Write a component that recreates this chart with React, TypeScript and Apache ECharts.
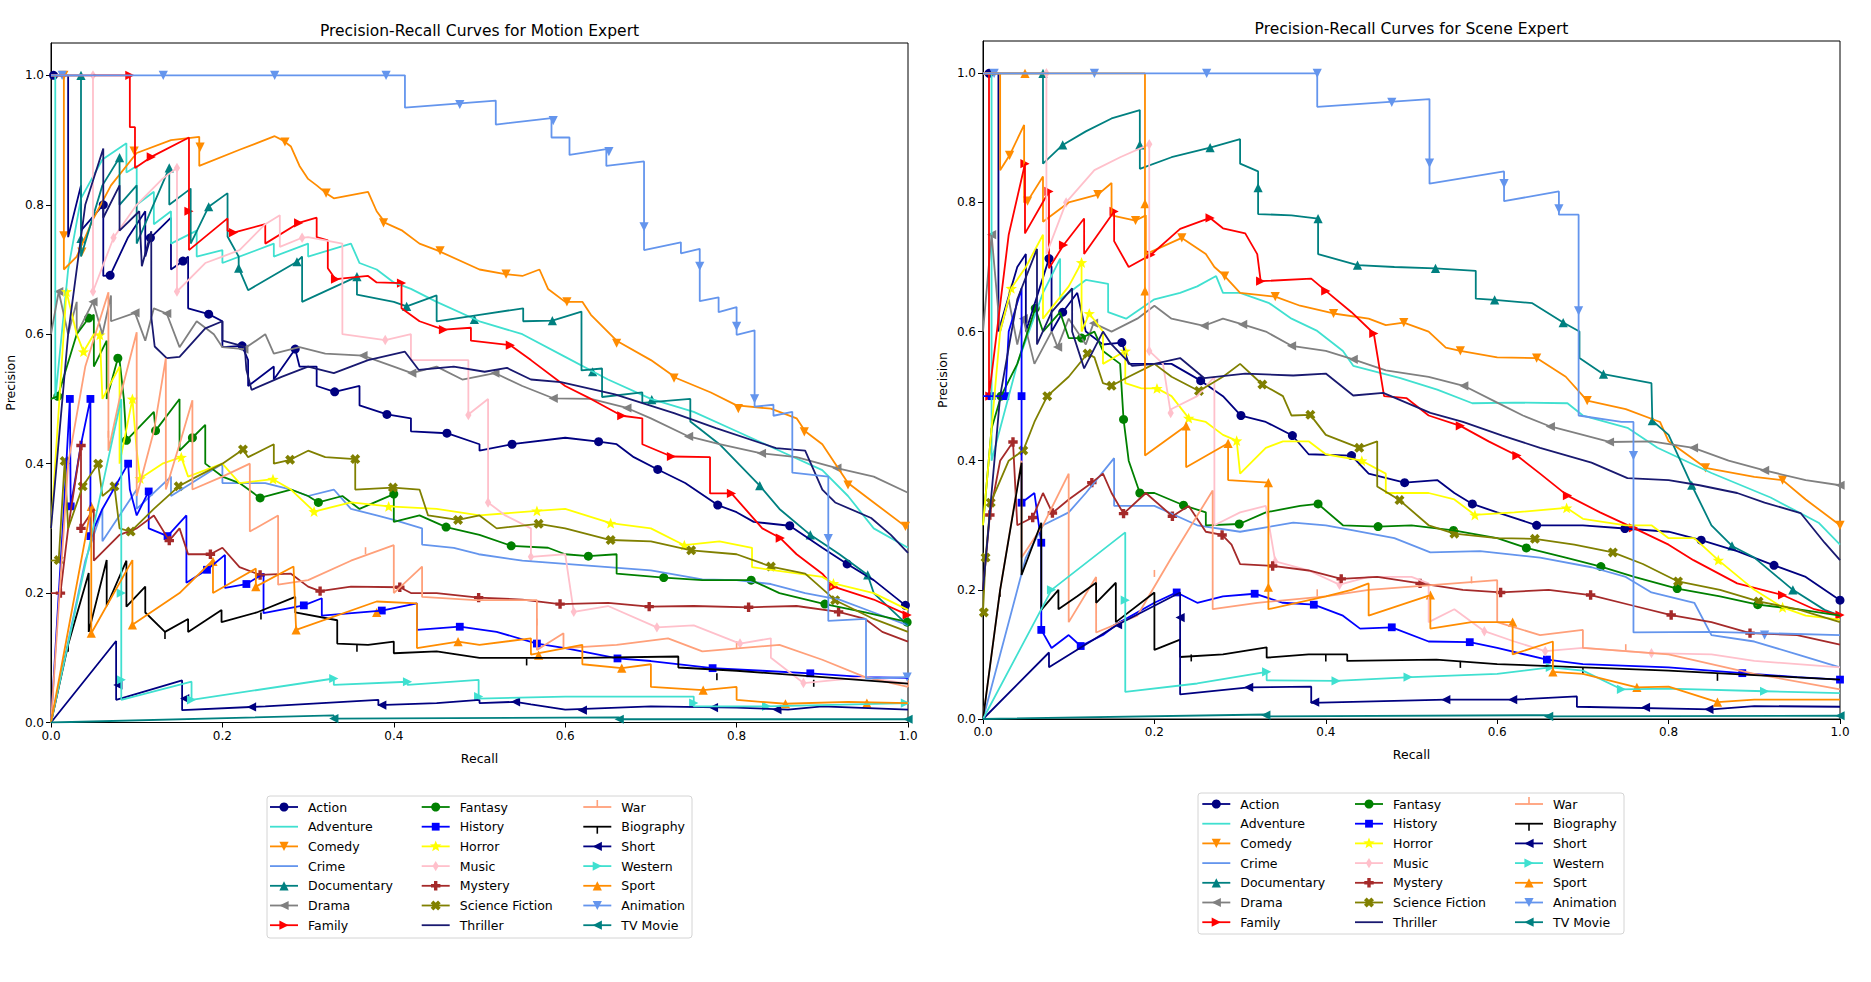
import { useEffect, useRef } from 'react';
import * as echarts from 'echarts';

// ---- genres and their styles (same order as the legend) ----
const GENRES = ['Action', 'Adventure', 'Comedy', 'Crime', 'Documentary', 'Drama', 'Family', 'Fantasy', 'History', 'Horror', 'Music', 'Mystery', 'Science Fiction', 'Thriller', 'War', 'Biography', 'Short', 'Western', 'Sport', 'Animation', 'TV Movie'];
const COLORS = ['#000080', '#40e0d0', '#ff8c00', '#6495ed', '#008080', '#808080', '#ff0000', '#008000', '#0000ff', '#ffff00', '#ffc0cb', '#a52a2a', '#808000', '#191970', '#ffa07a', '#000000', '#000080', '#40e0d0', '#ff8c00', '#6495ed', '#008080'];
const MARKERS = ['o', '', 'v', '', '^', '<', '>', 'o', 's', '*', 'd', 'P', 'X', '', '2', '3', '<', '>', '^', 'v', '<'];

const TITLES = ['Precision-Recall Curves for Motion Expert', 'Precision-Recall Curves for Scene Expert'];
const X_TICKS = [0, 0.2, 0.4, 0.6, 0.8, 1.0];
const Y_TICKS = [0, 0.2, 0.4, 0.6, 0.8, 1.0];

// ---- Motion expert: [recall, precision] ----
const motionAction = [[0, 1], [0.02, 1], [0.02, 0.75], [0.035, 0.83], [0.035, 0.76], [0.061, 0.8], [0.061, 0.69], [0.069, 0.691], [0.09, 0.75], [0.11, 0.79], [0.11, 0.72], [0.116, 0.749], [0.14, 0.78], [0.14, 0.7], [0.154, 0.713], [0.16, 0.72], [0.16, 0.64], [0.184, 0.631], [0.2, 0.62], [0.2, 0.58], [0.223, 0.582], [0.23, 0.56], [0.23, 0.52], [0.26, 0.55], [0.26, 0.53], [0.285, 0.577], [0.29, 0.55], [0.31, 0.55], [0.31, 0.52], [0.331, 0.511], [0.36, 0.52], [0.36, 0.49], [0.392, 0.476], [0.42, 0.47], [0.42, 0.45], [0.462, 0.447], [0.5, 0.43], [0.5, 0.42], [0.538, 0.43], [0.6, 0.44], [0.639, 0.434], [0.66, 0.43], [0.68, 0.41], [0.708, 0.391], [0.74, 0.37], [0.778, 0.336], [0.8, 0.325], [0.82, 0.31], [0.862, 0.304], [0.9, 0.27], [0.929, 0.245], [0.96, 0.22], [0.997, 0.181], [1.0, 0.175]];
const motionActionMarks = [[0.003, 1.0], [0.061, 0.8], [0.069, 0.691], [0.116, 0.749], [0.154, 0.713], [0.184, 0.631], [0.223, 0.582], [0.285, 0.577], [0.331, 0.511], [0.392, 0.476], [0.462, 0.447], [0.538, 0.43], [0.639, 0.434], [0.708, 0.391], [0.778, 0.336], [0.862, 0.304], [0.929, 0.245], [0.997, 0.181]];
const motionAdventure = [[0, 1], [0.005, 1], [0.005, 0.5], [0.02, 0.7], [0.035, 0.81], [0.06, 0.87], [0.088, 0.895], [0.088, 0.85], [0.1, 0.86], [0.1, 0.8], [0.12, 0.82], [0.12, 0.77], [0.14, 0.79], [0.14, 0.74], [0.17, 0.76], [0.17, 0.72], [0.2, 0.73], [0.2, 0.71], [0.26, 0.74], [0.26, 0.72], [0.3, 0.74], [0.3, 0.72], [0.35, 0.74], [0.36, 0.71], [0.38, 0.7], [0.4, 0.68], [0.42, 0.67], [0.45, 0.65], [0.5, 0.62], [0.55, 0.6], [0.6, 0.565], [0.65, 0.53], [0.7, 0.5], [0.75, 0.48], [0.8, 0.45], [0.85, 0.42], [0.9, 0.39], [0.93, 0.35], [0.96, 0.3], [1.0, 0.27]];
const motionAdventureMarks: number[][] = [];
const motionComedy = [[0, 1], [0.015, 1], [0.015, 0.7], [0.03, 0.72], [0.05, 0.78], [0.07, 0.83], [0.1, 0.88], [0.14, 0.9], [0.173, 0.905], [0.173, 0.86], [0.22, 0.885], [0.261, 0.906], [0.27, 0.9], [0.28, 0.89], [0.29, 0.86], [0.3, 0.84], [0.31, 0.83], [0.321, 0.818], [0.33, 0.81], [0.37, 0.82], [0.38, 0.79], [0.39, 0.772], [0.41, 0.76], [0.43, 0.74], [0.45, 0.73], [0.5, 0.7], [0.53, 0.693], [0.55, 0.69], [0.57, 0.7], [0.58, 0.67], [0.6, 0.65], [0.62, 0.65], [0.63, 0.63], [0.66, 0.59], [0.7, 0.56], [0.73, 0.532], [0.77, 0.51], [0.8, 0.49], [0.84, 0.485], [0.87, 0.47], [0.88, 0.45], [0.9, 0.43], [0.93, 0.37], [0.96, 0.34], [1.0, 0.3]];
const motionComedyMarks = [[0.015, 1.0], [0.015, 0.752], [0.036, 0.727], [0.097, 0.883], [0.174, 0.889], [0.273, 0.897], [0.321, 0.818], [0.388, 0.772], [0.454, 0.729], [0.531, 0.693], [0.602, 0.65], [0.66, 0.586], [0.727, 0.532], [0.802, 0.485], [0.879, 0.449], [0.93, 0.367], [0.997, 0.303]];
const motionCrime = [[0, 0], [0.04, 0.25], [0.06, 0.33], [0.06, 0.28], [0.1, 0.36], [0.1, 0.33], [0.14, 0.38], [0.14, 0.35], [0.2, 0.4], [0.2, 0.37], [0.25, 0.37], [0.28, 0.36], [0.3, 0.35], [0.33, 0.36], [0.35, 0.33], [0.38, 0.32], [0.4, 0.313], [0.433, 0.3], [0.433, 0.275], [0.47, 0.27], [0.499, 0.26], [0.55, 0.25], [0.6, 0.245], [0.65, 0.24], [0.7, 0.235], [0.76, 0.221], [0.8, 0.22], [0.84, 0.214], [0.88, 0.2], [0.92, 0.19], [0.96, 0.17], [1.0, 0.15]];
const motionCrimeMarks: number[][] = [];
const motionDocumentary = [[0, 1], [0.035, 1], [0.035, 0.72], [0.06, 0.83], [0.08, 0.873], [0.08, 0.8], [0.1, 0.83], [0.1, 0.74], [0.138, 0.857], [0.138, 0.8], [0.163, 0.825], [0.163, 0.74], [0.184, 0.797], [0.206, 0.818], [0.206, 0.751], [0.219, 0.72], [0.219, 0.702], [0.23, 0.668], [0.287, 0.712], [0.293, 0.72], [0.293, 0.65], [0.357, 0.689], [0.357, 0.661], [0.4, 0.65], [0.415, 0.643], [0.45, 0.66], [0.45, 0.62], [0.5, 0.63], [0.551, 0.64], [0.551, 0.62], [0.585, 0.621], [0.619, 0.635], [0.619, 0.544], [0.643, 0.547], [0.643, 0.503], [0.69, 0.51], [0.69, 0.494], [0.746, 0.5], [0.746, 0.465], [0.78, 0.43], [0.827, 0.366], [0.85, 0.33], [0.886, 0.29], [0.92, 0.26], [0.953, 0.228], [0.96, 0.2], [1.0, 0.15]];
const motionDocumentaryMarks = [[0.035, 1.0], [0.035, 0.748], [0.08, 0.873], [0.138, 0.857], [0.184, 0.797], [0.219, 0.702], [0.287, 0.712], [0.357, 0.689], [0.415, 0.643], [0.494, 0.623], [0.585, 0.621], [0.632, 0.542], [0.701, 0.499], [0.827, 0.366], [0.886, 0.29], [0.953, 0.228]];
const motionDrama = [[0, 0.6], [0.009, 0.666], [0.02, 0.6], [0.03, 0.65], [0.03, 0.6], [0.049, 0.65], [0.06, 0.6], [0.07, 0.66], [0.07, 0.62], [0.098, 0.633], [0.11, 0.59], [0.12, 0.64], [0.135, 0.632], [0.15, 0.58], [0.17, 0.62], [0.19, 0.6], [0.2, 0.58], [0.225, 0.577], [0.25, 0.6], [0.26, 0.57], [0.29, 0.58], [0.32, 0.57], [0.364, 0.567], [0.4, 0.55], [0.421, 0.54], [0.45, 0.55], [0.48, 0.53], [0.518, 0.54], [0.55, 0.52], [0.586, 0.501], [0.63, 0.5], [0.672, 0.486], [0.7, 0.47], [0.744, 0.442], [0.78, 0.43], [0.829, 0.416], [0.87, 0.41], [0.917, 0.393], [0.96, 0.38], [1.0, 0.355]];
const motionDramaMarks = [[0.009, 0.666], [0.049, 0.65], [0.098, 0.633], [0.135, 0.632], [0.225, 0.577], [0.364, 0.567], [0.421, 0.54], [0.518, 0.54], [0.586, 0.501], [0.672, 0.486], [0.744, 0.442], [0.829, 0.416], [0.917, 0.393]];
const motionFamily = [[0, 1], [0.092, 1], [0.092, 0.92], [0.098, 0.92], [0.098, 0.857], [0.117, 0.874], [0.161, 0.904], [0.161, 0.73], [0.206, 0.779], [0.206, 0.76], [0.213, 0.757], [0.25, 0.77], [0.25, 0.74], [0.289, 0.772], [0.31, 0.78], [0.31, 0.75], [0.323, 0.745], [0.323, 0.702], [0.332, 0.685], [0.37, 0.69], [0.38, 0.68], [0.409, 0.679], [0.409, 0.64], [0.43, 0.62], [0.458, 0.607], [0.49, 0.61], [0.49, 0.59], [0.536, 0.583], [0.56, 0.56], [0.6, 0.52], [0.63, 0.5], [0.666, 0.474], [0.69, 0.47], [0.69, 0.43], [0.724, 0.411], [0.769, 0.41], [0.769, 0.354], [0.794, 0.354], [0.81, 0.33], [0.83, 0.3], [0.851, 0.285], [0.87, 0.26], [0.9, 0.23], [0.913, 0.21], [0.96, 0.19], [1.0, 0.166]];
const motionFamilyMarks = [[0.092, 1.0], [0.117, 0.874], [0.161, 0.79], [0.213, 0.757], [0.289, 0.772], [0.332, 0.685], [0.409, 0.679], [0.458, 0.607], [0.536, 0.583], [0.666, 0.474], [0.724, 0.411], [0.794, 0.354], [0.851, 0.285], [0.913, 0.21], [0.999, 0.166]];
const motionFantasy = [[0, 0.5], [0.008, 0.504], [0.03, 0.6], [0.044, 0.625], [0.05, 0.63], [0.05, 0.55], [0.065, 0.59], [0.065, 0.5], [0.078, 0.563], [0.08, 0.56], [0.085, 0.5], [0.088, 0.436], [0.12, 0.48], [0.122, 0.451], [0.15, 0.5], [0.15, 0.42], [0.165, 0.44], [0.18, 0.46], [0.18, 0.4], [0.2, 0.38], [0.22, 0.37], [0.244, 0.347], [0.28, 0.36], [0.3, 0.35], [0.312, 0.34], [0.34, 0.35], [0.36, 0.33], [0.4, 0.353], [0.4, 0.31], [0.43, 0.32], [0.461, 0.302], [0.5, 0.29], [0.537, 0.273], [0.58, 0.27], [0.6, 0.26], [0.627, 0.257], [0.66, 0.26], [0.66, 0.23], [0.715, 0.224], [0.76, 0.22], [0.817, 0.22], [0.85, 0.2], [0.903, 0.183], [0.95, 0.17], [1.0, 0.155]];
const motionFantasyMarks = [[0.008, 0.504], [0.044, 0.625], [0.078, 0.563], [0.088, 0.436], [0.122, 0.451], [0.165, 0.44], [0.244, 0.347], [0.312, 0.34], [0.4, 0.353], [0.461, 0.302], [0.537, 0.273], [0.627, 0.257], [0.715, 0.224], [0.817, 0.22], [0.903, 0.183], [0.999, 0.155]];
const motionHistory = [[0, 0], [0.015, 0.33], [0.022, 0.5], [0.023, 0.334], [0.035, 0.43], [0.046, 0.5], [0.046, 0.288], [0.06, 0.33], [0.09, 0.4], [0.092, 0.36], [0.1, 0.32], [0.114, 0.357], [0.114, 0.3], [0.136, 0.288], [0.158, 0.32], [0.158, 0.216], [0.182, 0.236], [0.203, 0.259], [0.203, 0.208], [0.228, 0.214], [0.248, 0.23], [0.248, 0.169], [0.295, 0.181], [0.316, 0.192], [0.316, 0.165], [0.386, 0.173], [0.427, 0.184], [0.427, 0.143], [0.477, 0.148], [0.52, 0.14], [0.567, 0.122], [0.6, 0.115], [0.661, 0.099], [0.7, 0.095], [0.772, 0.084], [0.83, 0.08], [0.886, 0.076], [0.95, 0.07], [1.0, 0.069]];
const motionHistoryMarks = [[0.022, 0.5], [0.046, 0.5], [0.023, 0.334], [0.046, 0.288], [0.09, 0.4], [0.114, 0.357], [0.136, 0.288], [0.182, 0.236], [0.228, 0.214], [0.295, 0.181], [0.386, 0.173], [0.477, 0.148], [0.567, 0.122], [0.661, 0.099], [0.772, 0.084], [0.886, 0.076]];
const motionHorror = [[0, 0.3], [0.018, 0.666], [0.03, 0.6], [0.038, 0.573], [0.05, 0.6], [0.057, 0.599], [0.06, 0.5], [0.08, 0.55], [0.08, 0.4], [0.095, 0.5], [0.1, 0.42], [0.104, 0.377], [0.13, 0.4], [0.152, 0.41], [0.16, 0.38], [0.2, 0.4], [0.22, 0.37], [0.259, 0.376], [0.28, 0.36], [0.307, 0.326], [0.35, 0.34], [0.394, 0.334], [0.45, 0.33], [0.5, 0.32], [0.567, 0.327], [0.6, 0.33], [0.653, 0.308], [0.7, 0.3], [0.739, 0.274], [0.78, 0.28], [0.818, 0.27], [0.818, 0.24], [0.9, 0.225], [0.913, 0.215], [0.96, 0.2], [1.0, 0.174]];
const motionHorrorMarks = [[0.018, 0.666], [0.038, 0.573], [0.057, 0.599], [0.095, 0.5], [0.104, 0.377], [0.152, 0.41], [0.259, 0.376], [0.307, 0.326], [0.394, 0.334], [0.567, 0.327], [0.653, 0.308], [0.739, 0.274], [0.913, 0.215]];
const motionMusic = [[0, 1], [0.049, 1], [0.049, 0.666], [0.073, 0.749], [0.1, 0.8], [0.13, 0.84], [0.147, 0.857], [0.147, 0.666], [0.18, 0.71], [0.2, 0.72], [0.22, 0.73], [0.25, 0.77], [0.267, 0.784], [0.267, 0.735], [0.293, 0.749], [0.3, 0.75], [0.34, 0.74], [0.34, 0.6], [0.39, 0.591], [0.42, 0.6], [0.42, 0.56], [0.46, 0.56], [0.487, 0.56], [0.487, 0.476], [0.51, 0.5], [0.51, 0.34], [0.53, 0.32], [0.56, 0.3], [0.56, 0.256], [0.6, 0.26], [0.61, 0.171], [0.65, 0.18], [0.707, 0.147], [0.75, 0.15], [0.804, 0.122], [0.84, 0.13], [0.84, 0.1], [0.878, 0.061], [0.95, 0.07], [1.0, 0.06]];
const motionMusicMarks = [[0.049, 1.0], [0.049, 0.666], [0.073, 0.749], [0.147, 0.857], [0.147, 0.666], [0.293, 0.749], [0.39, 0.591], [0.487, 0.475], [0.51, 0.34], [0.56, 0.256], [0.61, 0.171], [0.707, 0.147], [0.804, 0.122], [0.878, 0.061]];
const motionMystery = [[0, 0.2], [0.011, 0.2], [0.02, 0.3], [0.035, 0.43], [0.035, 0.3], [0.05, 0.33], [0.05, 0.25], [0.08, 0.29], [0.1, 0.3], [0.12, 0.32], [0.138, 0.281], [0.15, 0.3], [0.16, 0.26], [0.186, 0.26], [0.2, 0.27], [0.22, 0.24], [0.244, 0.228], [0.28, 0.23], [0.3, 0.21], [0.314, 0.203], [0.35, 0.21], [0.407, 0.209], [0.42, 0.2], [0.45, 0.2], [0.499, 0.193], [0.55, 0.19], [0.594, 0.183], [0.65, 0.185], [0.698, 0.179], [0.75, 0.18], [0.814, 0.178], [0.87, 0.18], [0.919, 0.171], [0.95, 0.16], [0.97, 0.14], [1.0, 0.125]];
const motionMysteryMarks = [[0.011, 0.2], [0.035, 0.3], [0.035, 0.428], [0.138, 0.281], [0.186, 0.26], [0.244, 0.228], [0.314, 0.203], [0.407, 0.209], [0.499, 0.193], [0.594, 0.183], [0.698, 0.179], [0.814, 0.178], [0.919, 0.171]];
const motionSciFi = [[0, 0.25], [0.009, 0.251], [0.016, 0.404], [0.02, 0.3], [0.037, 0.365], [0.055, 0.4], [0.06, 0.35], [0.074, 0.365], [0.08, 0.3], [0.093, 0.295], [0.12, 0.33], [0.149, 0.365], [0.17, 0.38], [0.2, 0.4], [0.224, 0.422], [0.23, 0.41], [0.26, 0.43], [0.26, 0.4], [0.279, 0.406], [0.3, 0.42], [0.32, 0.41], [0.355, 0.407], [0.355, 0.36], [0.399, 0.363], [0.43, 0.36], [0.44, 0.32], [0.475, 0.313], [0.5, 0.32], [0.52, 0.3], [0.569, 0.307], [0.6, 0.3], [0.653, 0.282], [0.7, 0.28], [0.747, 0.266], [0.8, 0.26], [0.84, 0.241], [0.88, 0.23], [0.915, 0.189], [0.96, 0.16], [1.0, 0.14]];
const motionSciFiMarks = [[0.009, 0.251], [0.016, 0.404], [0.037, 0.365], [0.055, 0.4], [0.074, 0.365], [0.093, 0.295], [0.149, 0.365], [0.224, 0.422], [0.279, 0.406], [0.355, 0.407], [0.399, 0.363], [0.475, 0.313], [0.569, 0.307], [0.653, 0.282], [0.747, 0.266], [0.84, 0.241], [0.915, 0.189]];
const motionThriller = [[0, 0.3], [0.02, 0.6], [0.04, 0.8], [0.061, 0.887], [0.061, 0.78], [0.08, 0.83], [0.08, 0.76], [0.103, 0.79], [0.106, 0.705], [0.117, 0.759], [0.117, 0.627], [0.121, 0.581], [0.135, 0.563], [0.15, 0.565], [0.18, 0.609], [0.2, 0.62], [0.2, 0.59], [0.226, 0.581], [0.228, 0.545], [0.234, 0.514], [0.269, 0.534], [0.3, 0.55], [0.33, 0.54], [0.37, 0.56], [0.413, 0.573], [0.429, 0.545], [0.47, 0.55], [0.506, 0.542], [0.532, 0.548], [0.56, 0.53], [0.595, 0.526], [0.658, 0.507], [0.727, 0.478], [0.776, 0.455], [0.846, 0.424], [0.88, 0.42], [0.9, 0.36], [0.915, 0.34], [0.957, 0.316], [0.98, 0.29], [1.0, 0.262]];
const motionThrillerMarks: number[][] = [];
const motionWar = [[0, 0], [0.02, 0.4], [0.04, 0.55], [0.067, 0.665], [0.067, 0.42], [0.08, 0.5], [0.1, 0.603], [0.1, 0.35], [0.12, 0.45], [0.134, 0.563], [0.134, 0.36], [0.15, 0.43], [0.165, 0.498], [0.165, 0.36], [0.2, 0.38], [0.232, 0.4], [0.232, 0.295], [0.265, 0.32], [0.265, 0.213], [0.3, 0.22], [0.35, 0.25], [0.4, 0.274], [0.4, 0.2], [0.433, 0.241], [0.433, 0.194], [0.495, 0.189], [0.567, 0.189], [0.567, 0.112], [0.598, 0.138], [0.598, 0.115], [0.66, 0.12], [0.72, 0.13], [0.76, 0.11], [0.85, 0.12], [0.9, 0.097], [0.95, 0.07], [1.0, 0.055]];
const motionWarMarks = [[0.067, 0.44], [0.367, 0.26], [0.567, 0.15], [0.8, 0.115], [1.0, 0.055]];
const motionBiography = [[0, 0], [0.02, 0.12], [0.044, 0.231], [0.044, 0.14], [0.065, 0.251], [0.065, 0.18], [0.088, 0.25], [0.088, 0.179], [0.11, 0.21], [0.11, 0.17], [0.133, 0.14], [0.16, 0.16], [0.16, 0.14], [0.199, 0.174], [0.199, 0.155], [0.24, 0.17], [0.285, 0.194], [0.285, 0.17], [0.334, 0.158], [0.334, 0.122], [0.37, 0.12], [0.4, 0.125], [0.4, 0.107], [0.45, 0.11], [0.5, 0.1], [0.55, 0.1], [0.62, 0.1], [0.732, 0.102], [0.732, 0.085], [0.8, 0.08], [0.9, 0.07], [1.0, 0.06]];
const motionBiographyMarks = [[0.02, 0.12], [0.133, 0.14], [0.245, 0.17], [0.357, 0.12], [0.555, 0.099], [0.777, 0.076], [0.89, 0.066]];
const motionShort = [[0, 0], [0.076, 0.126], [0.076, 0.035], [0.153, 0.065], [0.153, 0.019], [0.25, 0.025], [0.382, 0.035], [0.382, 0.027], [0.45, 0.03], [0.5, 0.035], [0.5, 0.03], [0.542, 0.032], [0.56, 0.028], [0.6, 0.02], [0.7, 0.025], [0.8, 0.023], [0.86, 0.02], [0.9, 0.025], [1.0, 0.02]];
const motionShortMarks = [[0.078, 0.058], [0.156, 0.037], [0.234, 0.024], [0.386, 0.027], [0.542, 0.032], [0.62, 0.019], [0.773, 0.023], [0.847, 0.02]];
const motionWestern = [[0, 0], [0.082, 0.5], [0.082, 0.035], [0.164, 0.063], [0.164, 0.035], [0.33, 0.068], [0.33, 0.058], [0.416, 0.063], [0.416, 0.058], [0.499, 0.066], [0.499, 0.037], [0.6, 0.04], [0.75, 0.04], [0.75, 0.025], [0.835, 0.025], [1.0, 0.03]];
const motionWesternMarks = [[0.082, 0.2], [0.082, 0.066], [0.164, 0.035], [0.33, 0.068], [0.416, 0.063], [0.499, 0.04], [0.75, 0.03], [0.835, 0.025], [0.997, 0.03]];
const motionSport = [[0, 0], [0.047, 0.334], [0.047, 0.138], [0.095, 0.251], [0.095, 0.151], [0.15, 0.2], [0.189, 0.251], [0.189, 0.2], [0.239, 0.238], [0.239, 0.21], [0.283, 0.241], [0.286, 0.143], [0.38, 0.187], [0.427, 0.184], [0.427, 0.115], [0.475, 0.125], [0.5, 0.12], [0.56, 0.13], [0.56, 0.105], [0.62, 0.12], [0.62, 0.09], [0.666, 0.084], [0.7, 0.09], [0.7, 0.055], [0.761, 0.05], [0.8, 0.055], [0.8, 0.035], [0.857, 0.029], [0.93, 0.032], [1.0, 0.03]];
const motionSportMarks = [[0.047, 0.334], [0.047, 0.138], [0.095, 0.151], [0.189, 0.249], [0.239, 0.21], [0.286, 0.143], [0.38, 0.17], [0.475, 0.125], [0.569, 0.104], [0.666, 0.084], [0.761, 0.05], [0.857, 0.029], [0.952, 0.03]];
const motionAnimation = [[0, 1], [0.413, 1], [0.413, 0.95], [0.519, 0.961], [0.519, 0.924], [0.584, 0.934], [0.584, 0.904], [0.605, 0.904], [0.605, 0.877], [0.648, 0.886], [0.648, 0.86], [0.692, 0.867], [0.692, 0.73], [0.735, 0.742], [0.735, 0.725], [0.757, 0.732], [0.757, 0.651], [0.779, 0.657], [0.779, 0.634], [0.8, 0.642], [0.8, 0.599], [0.821, 0.606], [0.821, 0.488], [0.843, 0.491], [0.843, 0.474], [0.865, 0.48], [0.865, 0.386], [0.907, 0.38], [0.907, 0.157], [0.951, 0.16], [0.951, 0.068], [1.0, 0.07]];
const motionAnimationMarks = [[0.013, 1], [0.131, 1], [0.261, 1], [0.391, 1], [0.477, 0.955], [0.586, 0.93], [0.651, 0.882], [0.692, 0.766], [0.757, 0.705], [0.8, 0.612], [0.821, 0.5], [0.907, 0.284], [0.999, 0.07]];
const motionTvMovie = [[0, 0], [0.33, 0.011], [0.33, 0.006], [0.663, 0.008], [0.663, 0.005], [1.0, 0.005]];
const motionTvMovieMarks = [[0.33, 0.006], [0.663, 0.005], [1.0, 0.005]];

// ---- Scene expert: [recall, precision] ----
const sceneAction = [[0, 1], [0.018, 1], [0.018, 0.6], [0.04, 0.7], [0.05, 0.72], [0.05, 0.6], [0.077, 0.713], [0.08, 0.7], [0.08, 0.6], [0.093, 0.63], [0.11, 0.66], [0.12, 0.6], [0.14, 0.58], [0.162, 0.583], [0.17, 0.55], [0.2, 0.55], [0.22, 0.55], [0.254, 0.524], [0.28, 0.5], [0.301, 0.47], [0.33, 0.46], [0.361, 0.439], [0.38, 0.41], [0.43, 0.408], [0.45, 0.38], [0.492, 0.366], [0.53, 0.37], [0.55, 0.35], [0.571, 0.333], [0.6, 0.32], [0.646, 0.3], [0.7, 0.3], [0.749, 0.295], [0.8, 0.29], [0.838, 0.277], [0.88, 0.26], [0.923, 0.238], [0.96, 0.22], [1.0, 0.184]];
const sceneActionMarks = [[0.007, 1], [0.077, 0.713], [0.093, 0.63], [0.162, 0.583], [0.254, 0.524], [0.301, 0.47], [0.361, 0.439], [0.43, 0.408], [0.492, 0.366], [0.571, 0.333], [0.646, 0.3], [0.749, 0.295], [0.838, 0.277], [0.923, 0.238], [1.0, 0.184]];
const sceneAdventure = [[0, 1], [0.01, 1], [0.01, 0.4], [0.04, 0.55], [0.07, 0.66], [0.09, 0.713], [0.09, 0.65], [0.12, 0.68], [0.146, 0.674], [0.146, 0.63], [0.167, 0.62], [0.2, 0.65], [0.23, 0.66], [0.25, 0.67], [0.272, 0.686], [0.28, 0.66], [0.3, 0.66], [0.334, 0.644], [0.36, 0.62], [0.39, 0.601], [0.42, 0.57], [0.432, 0.547], [0.487, 0.528], [0.53, 0.51], [0.571, 0.489], [0.62, 0.49], [0.682, 0.489], [0.7, 0.47], [0.752, 0.451], [0.787, 0.42], [0.85, 0.381], [0.919, 0.343], [0.975, 0.304], [1.0, 0.27]];
const sceneAdventureMarks: number[][] = [];
const sceneComedy = [[0, 1], [0.02, 1], [0.02, 0.85], [0.031, 0.873], [0.048, 0.92], [0.048, 0.8], [0.052, 0.802], [0.07, 0.84], [0.07, 0.77], [0.1, 0.8], [0.134, 0.812], [0.15, 0.83], [0.15, 0.78], [0.178, 0.772], [0.19, 0.78], [0.19, 0.72], [0.232, 0.745], [0.26, 0.72], [0.27, 0.7], [0.282, 0.686], [0.3, 0.66], [0.341, 0.654], [0.37, 0.64], [0.409, 0.628], [0.45, 0.62], [0.47, 0.61], [0.491, 0.614], [0.52, 0.6], [0.54, 0.575], [0.557, 0.57], [0.6, 0.56], [0.646, 0.559], [0.68, 0.53], [0.705, 0.493], [0.75, 0.48], [0.79, 0.46], [0.8, 0.43], [0.843, 0.389], [0.9, 0.375], [0.933, 0.37], [0.96, 0.34], [1.0, 0.3]];
const sceneComedyMarks = [[0.031, 0.873], [0.052, 0.802], [0.134, 0.812], [0.178, 0.772], [0.232, 0.745], [0.282, 0.686], [0.341, 0.654], [0.409, 0.628], [0.491, 0.614], [0.557, 0.57], [0.646, 0.559], [0.705, 0.493], [0.843, 0.389], [0.933, 0.37], [1.0, 0.3]];
const sceneCrime = [[0, 0], [0.05, 0.25], [0.07, 0.3], [0.1, 0.32], [0.12, 0.35], [0.153, 0.404], [0.153, 0.33], [0.2, 0.33], [0.25, 0.3], [0.3, 0.29], [0.362, 0.304], [0.4, 0.3], [0.432, 0.292], [0.48, 0.28], [0.522, 0.258], [0.58, 0.26], [0.65, 0.25], [0.71, 0.235], [0.75, 0.22], [0.78, 0.196], [0.83, 0.18], [0.85, 0.13], [0.9, 0.12], [0.95, 0.1], [1.0, 0.08]];
const sceneCrimeMarks: number[][] = [];
const sceneDocumentary = [[0, 1], [0.07, 1], [0.07, 0.86], [0.093, 0.889], [0.12, 0.91], [0.15, 0.93], [0.183, 0.943], [0.183, 0.852], [0.22, 0.87], [0.265, 0.885], [0.3, 0.898], [0.3, 0.86], [0.321, 0.848], [0.321, 0.782], [0.36, 0.78], [0.391, 0.775], [0.391, 0.72], [0.437, 0.703], [0.48, 0.7], [0.528, 0.698], [0.575, 0.694], [0.575, 0.651], [0.597, 0.649], [0.641, 0.644], [0.677, 0.614], [0.696, 0.6], [0.696, 0.559], [0.724, 0.534], [0.78, 0.52], [0.781, 0.462], [0.8, 0.44], [0.827, 0.362], [0.85, 0.3], [0.874, 0.268], [0.9, 0.25], [0.945, 0.2], [0.982, 0.169], [1.0, 0.16]];
const sceneDocumentaryMarks = [[0.07, 1], [0.093, 0.889], [0.183, 0.889], [0.265, 0.885], [0.321, 0.823], [0.391, 0.775], [0.437, 0.703], [0.528, 0.698], [0.597, 0.649], [0.677, 0.614], [0.724, 0.534], [0.781, 0.462], [0.827, 0.362], [0.874, 0.268], [0.945, 0.2]];
const sceneDrama = [[0, 0.6], [0.01, 0.75], [0.02, 0.6], [0.03, 0.65], [0.04, 0.58], [0.047, 0.62], [0.06, 0.55], [0.08, 0.6], [0.087, 0.576], [0.1, 0.62], [0.12, 0.58], [0.129, 0.613], [0.15, 0.6], [0.18, 0.62], [0.2, 0.64], [0.22, 0.62], [0.258, 0.609], [0.28, 0.62], [0.303, 0.611], [0.33, 0.6], [0.36, 0.578], [0.4, 0.57], [0.432, 0.557], [0.47, 0.54], [0.52, 0.53], [0.561, 0.516], [0.6, 0.49], [0.63, 0.47], [0.662, 0.453], [0.7, 0.44], [0.731, 0.429], [0.78, 0.43], [0.829, 0.42], [0.87, 0.4], [0.912, 0.385], [0.96, 0.37], [1.0, 0.362]];
const sceneDramaMarks = [[0.01, 0.75], [0.047, 0.62], [0.087, 0.576], [0.129, 0.613], [0.258, 0.609], [0.303, 0.611], [0.36, 0.578], [0.432, 0.557], [0.561, 0.516], [0.662, 0.453], [0.731, 0.429], [0.829, 0.42], [0.912, 0.385], [1.0, 0.362]];
const sceneFamily = [[0, 1], [0.007, 1], [0.007, 0.5], [0.03, 0.75], [0.049, 0.86], [0.049, 0.752], [0.077, 0.817], [0.077, 0.698], [0.094, 0.734], [0.118, 0.775], [0.118, 0.72], [0.153, 0.786], [0.153, 0.74], [0.17, 0.7], [0.196, 0.719], [0.23, 0.759], [0.265, 0.776], [0.28, 0.76], [0.306, 0.752], [0.32, 0.72], [0.324, 0.678], [0.383, 0.682], [0.4, 0.663], [0.43, 0.63], [0.456, 0.597], [0.468, 0.5], [0.494, 0.497], [0.52, 0.47], [0.557, 0.454], [0.59, 0.43], [0.623, 0.408], [0.65, 0.38], [0.682, 0.346], [0.72, 0.32], [0.759, 0.296], [0.8, 0.27], [0.829, 0.246], [0.88, 0.21], [0.933, 0.192], [0.97, 0.17], [1.0, 0.161]];
const sceneFamilyMarks = [[0.008, 0.5], [0.049, 0.86], [0.077, 0.817], [0.094, 0.734], [0.153, 0.786], [0.196, 0.719], [0.265, 0.776], [0.324, 0.678], [0.4, 0.663], [0.456, 0.597], [0.557, 0.454], [0.623, 0.408], [0.682, 0.346], [0.759, 0.296], [0.933, 0.192], [1.0, 0.161]];
const sceneFantasy = [[0, 0.3], [0.01, 0.45], [0.021, 0.5], [0.04, 0.55], [0.061, 0.636], [0.07, 0.6], [0.09, 0.63], [0.1, 0.59], [0.115, 0.59], [0.13, 0.6], [0.14, 0.57], [0.16, 0.55], [0.164, 0.464], [0.17, 0.4], [0.183, 0.35], [0.2, 0.35], [0.234, 0.331], [0.26, 0.32], [0.26, 0.3], [0.299, 0.302], [0.33, 0.32], [0.37, 0.33], [0.391, 0.333], [0.42, 0.3], [0.461, 0.298], [0.5, 0.3], [0.549, 0.292], [0.6, 0.28], [0.634, 0.265], [0.68, 0.25], [0.721, 0.236], [0.76, 0.22], [0.81, 0.202], [0.86, 0.19], [0.904, 0.177], [0.95, 0.17], [1.0, 0.16]];
const sceneFantasyMarks = [[0.021, 0.5], [0.061, 0.636], [0.115, 0.59], [0.164, 0.464], [0.183, 0.35], [0.234, 0.331], [0.299, 0.302], [0.391, 0.333], [0.461, 0.298], [0.549, 0.292], [0.634, 0.265], [0.721, 0.236], [0.81, 0.202], [0.904, 0.177]];
const sceneHistory = [[0, 0.5], [0.026, 0.5], [0.03, 0.6], [0.045, 0.667], [0.045, 0.335], [0.06, 0.35], [0.068, 0.273], [0.068, 0.138], [0.08, 0.11], [0.1, 0.13], [0.114, 0.113], [0.14, 0.13], [0.16, 0.15], [0.2, 0.18], [0.226, 0.196], [0.25, 0.18], [0.28, 0.19], [0.317, 0.194], [0.35, 0.18], [0.386, 0.177], [0.42, 0.16], [0.44, 0.14], [0.477, 0.142], [0.52, 0.12], [0.568, 0.119], [0.6, 0.11], [0.658, 0.092], [0.7, 0.085], [0.8, 0.08], [0.886, 0.071], [0.95, 0.065], [1.0, 0.061]];
const sceneHistoryMarks = [[0.01, 0.5], [0.026, 0.5], [0.045, 0.5], [0.045, 0.335], [0.068, 0.273], [0.068, 0.138], [0.114, 0.113], [0.226, 0.196], [0.317, 0.194], [0.386, 0.177], [0.477, 0.142], [0.568, 0.119], [0.658, 0.092], [0.886, 0.071], [1.0, 0.061]];
const sceneHorror = [[0, 0.3], [0.02, 0.6], [0.033, 0.667], [0.05, 0.7], [0.07, 0.75], [0.07, 0.62], [0.1, 0.67], [0.115, 0.707], [0.115, 0.6], [0.124, 0.628], [0.14, 0.6], [0.14, 0.55], [0.166, 0.57], [0.166, 0.52], [0.185, 0.512], [0.203, 0.512], [0.22, 0.5], [0.24, 0.466], [0.26, 0.46], [0.28, 0.44], [0.296, 0.431], [0.3, 0.38], [0.33, 0.42], [0.35, 0.43], [0.38, 0.43], [0.4, 0.41], [0.442, 0.4], [0.47, 0.38], [0.47, 0.35], [0.52, 0.35], [0.55, 0.34], [0.574, 0.316], [0.62, 0.32], [0.681, 0.327], [0.7, 0.31], [0.75, 0.3], [0.78, 0.3], [0.8, 0.28], [0.83, 0.28], [0.858, 0.246], [0.9, 0.2], [0.933, 0.173], [0.96, 0.16], [1.0, 0.154]];
const sceneHorrorMarks = [[0.033, 0.667], [0.115, 0.707], [0.124, 0.628], [0.166, 0.57], [0.203, 0.512], [0.24, 0.466], [0.296, 0.431], [0.442, 0.4], [0.574, 0.316], [0.681, 0.327], [0.858, 0.246], [0.933, 0.173]];
const sceneMusic = [[0, 1], [0.074, 1], [0.074, 0.72], [0.097, 0.8], [0.13, 0.85], [0.16, 0.87], [0.194, 0.89], [0.194, 0.57], [0.21, 0.55], [0.219, 0.474], [0.22, 0.48], [0.25, 0.5], [0.27, 0.53], [0.27, 0.3], [0.3, 0.32], [0.33, 0.33], [0.341, 0.244], [0.38, 0.23], [0.416, 0.208], [0.45, 0.22], [0.5, 0.22], [0.52, 0.21], [0.52, 0.15], [0.55, 0.17], [0.585, 0.136], [0.62, 0.12], [0.656, 0.105], [0.7, 0.11], [0.78, 0.102], [0.85, 0.1], [0.9, 0.09], [1.0, 0.08]];
const sceneMusicMarks = [[0.074, 1], [0.097, 0.8], [0.194, 0.89], [0.194, 0.57], [0.219, 0.474], [0.341, 0.244], [0.416, 0.208], [0.585, 0.136], [0.656, 0.105], [0.78, 0.102]];
const sceneMystery = [[0, 0.2], [0.008, 0.316], [0.02, 0.4], [0.035, 0.429], [0.04, 0.3], [0.058, 0.312], [0.07, 0.35], [0.081, 0.319], [0.1, 0.34], [0.127, 0.366], [0.14, 0.38], [0.15, 0.35], [0.164, 0.318], [0.19, 0.35], [0.221, 0.314], [0.24, 0.33], [0.26, 0.29], [0.279, 0.285], [0.29, 0.27], [0.3, 0.24], [0.338, 0.237], [0.38, 0.23], [0.418, 0.217], [0.46, 0.22], [0.51, 0.21], [0.56, 0.2], [0.604, 0.196], [0.66, 0.2], [0.709, 0.192], [0.76, 0.175], [0.803, 0.161], [0.85, 0.15], [0.895, 0.133], [0.95, 0.13], [1.0, 0.115]];
const sceneMysteryMarks = [[0.008, 0.316], [0.035, 0.429], [0.058, 0.312], [0.081, 0.319], [0.127, 0.366], [0.164, 0.318], [0.221, 0.314], [0.279, 0.285], [0.338, 0.237], [0.418, 0.217], [0.51, 0.21], [0.604, 0.196], [0.709, 0.192], [0.803, 0.161], [0.895, 0.133]];
const sceneSciFi = [[0, 0.165], [0.003, 0.25], [0.009, 0.335], [0.03, 0.4], [0.047, 0.416], [0.06, 0.46], [0.075, 0.5], [0.1, 0.53], [0.122, 0.566], [0.13, 0.56], [0.14, 0.52], [0.15, 0.516], [0.17, 0.53], [0.2, 0.55], [0.22, 0.53], [0.252, 0.508], [0.28, 0.53], [0.3, 0.55], [0.326, 0.518], [0.35, 0.5], [0.36, 0.47], [0.382, 0.471], [0.4, 0.44], [0.439, 0.42], [0.46, 0.43], [0.46, 0.36], [0.486, 0.339], [0.52, 0.3], [0.55, 0.287], [0.6, 0.28], [0.644, 0.279], [0.69, 0.27], [0.735, 0.258], [0.77, 0.24], [0.811, 0.213], [0.86, 0.2], [0.905, 0.182], [0.95, 0.17], [1.0, 0.15]];
const sceneSciFiMarks = [[0.001, 0.165], [0.003, 0.25], [0.009, 0.335], [0.047, 0.416], [0.075, 0.5], [0.122, 0.566], [0.15, 0.516], [0.252, 0.508], [0.326, 0.518], [0.382, 0.471], [0.439, 0.42], [0.486, 0.339], [0.55, 0.287], [0.644, 0.279], [0.735, 0.258], [0.811, 0.213], [0.905, 0.182]];
const sceneThriller = [[0, 0.2], [0.02, 0.5], [0.04, 0.65], [0.063, 0.728], [0.063, 0.58], [0.08, 0.63], [0.104, 0.667], [0.104, 0.6], [0.118, 0.543], [0.14, 0.6], [0.15, 0.58], [0.174, 0.547], [0.2, 0.55], [0.23, 0.559], [0.258, 0.528], [0.306, 0.535], [0.362, 0.532], [0.4, 0.535], [0.432, 0.501], [0.467, 0.505], [0.522, 0.474], [0.56, 0.46], [0.606, 0.439], [0.65, 0.42], [0.71, 0.397], [0.752, 0.373], [0.8, 0.37], [0.836, 0.362], [0.88, 0.35], [0.912, 0.335], [0.954, 0.319], [0.982, 0.273], [1.0, 0.246]];
const sceneThrillerMarks: number[][] = [];
const sceneWar = [[0, 0], [0.02, 0.2], [0.045, 0.4], [0.045, 0.25], [0.07, 0.3], [0.1, 0.38], [0.1, 0.15], [0.132, 0.22], [0.132, 0.134], [0.18, 0.16], [0.22, 0.25], [0.268, 0.354], [0.268, 0.17], [0.32, 0.18], [0.4, 0.19], [0.45, 0.2], [0.55, 0.21], [0.6, 0.215], [0.6, 0.15], [0.65, 0.13], [0.7, 0.138], [0.7, 0.11], [0.8, 0.1], [0.9, 0.07], [1.0, 0.046]];
const sceneWarMarks = [[0.045, 0.4], [0.2, 0.22], [0.39, 0.19], [0.57, 0.21], [0.75, 0.105]];
const sceneBiography = [[0, 0], [0.02, 0.2], [0.045, 0.397], [0.045, 0.223], [0.068, 0.304], [0.068, 0.169], [0.088, 0.2], [0.088, 0.17], [0.11, 0.19], [0.132, 0.211], [0.132, 0.18], [0.155, 0.211], [0.155, 0.15], [0.2, 0.196], [0.2, 0.107], [0.23, 0.123], [0.23, 0.096], [0.28, 0.1], [0.331, 0.111], [0.331, 0.095], [0.38, 0.1], [0.425, 0.1], [0.425, 0.09], [0.529, 0.092], [0.6, 0.085], [0.7, 0.08], [0.8, 0.075], [0.9, 0.068], [1.0, 0.061]];
const sceneBiographyMarks = [[0.02, 0.2], [0.243, 0.1], [0.4, 0.1], [0.557, 0.09], [0.7, 0.08], [0.857, 0.07]];
const sceneShort = [[0, 0], [0.077, 0.103], [0.077, 0.08], [0.157, 0.146], [0.23, 0.196], [0.23, 0.038], [0.31, 0.049], [0.383, 0.05], [0.383, 0.025], [0.54, 0.03], [0.62, 0.03], [0.693, 0.035], [0.693, 0.019], [0.85, 0.015], [0.9, 0.02], [1.0, 0.019]];
const sceneShortMarks = [[0.157, 0.146], [0.23, 0.157], [0.31, 0.049], [0.387, 0.026], [0.54, 0.03], [0.618, 0.03], [0.773, 0.018], [0.847, 0.015]];
const sceneWestern = [[0, 0], [0.08, 0.2], [0.166, 0.289], [0.166, 0.042], [0.25, 0.055], [0.331, 0.073], [0.331, 0.06], [0.412, 0.059], [0.5, 0.065], [0.6, 0.07], [0.662, 0.08], [0.7, 0.075], [0.745, 0.046], [0.8, 0.047], [0.912, 0.043], [1.0, 0.04]];
const sceneWesternMarks = [[0.08, 0.2], [0.166, 0.184], [0.331, 0.073], [0.412, 0.059], [0.496, 0.065], [0.662, 0.08], [0.745, 0.046], [0.912, 0.043]];
const sceneSport = [[0, 1], [0.189, 1], [0.189, 0.408], [0.237, 0.454], [0.237, 0.39], [0.286, 0.427], [0.286, 0.37], [0.333, 0.366], [0.333, 0.17], [0.4, 0.19], [0.43, 0.2], [0.45, 0.21], [0.45, 0.16], [0.522, 0.192], [0.522, 0.14], [0.57, 0.15], [0.618, 0.15], [0.618, 0.1], [0.665, 0.12], [0.665, 0.073], [0.7, 0.07], [0.763, 0.049], [0.8, 0.05], [0.857, 0.026], [0.9, 0.03], [1.0, 0.03]];
const sceneSportMarks = [[0.049, 1], [0.189, 0.798], [0.189, 0.663], [0.237, 0.454], [0.286, 0.427], [0.333, 0.366], [0.333, 0.204], [0.522, 0.192], [0.618, 0.15], [0.665, 0.073], [0.763, 0.049], [0.857, 0.026]];
const sceneAnimation = [[0, 1], [0.39, 1], [0.39, 0.948], [0.521, 0.96], [0.521, 0.829], [0.608, 0.848], [0.608, 0.802], [0.672, 0.817], [0.672, 0.781], [0.695, 0.781], [0.695, 0.47], [0.745, 0.46], [0.759, 0.46], [0.759, 0.134], [0.85, 0.135], [1.0, 0.13]];
const sceneAnimationMarks = [[0.013, 1], [0.13, 1], [0.261, 1], [0.39, 1], [0.477, 0.955], [0.521, 0.861], [0.608, 0.829], [0.672, 0.79], [0.695, 0.632], [0.759, 0.408], [0.912, 0.13]];
const sceneTvMovie = [[0, 0], [0.33, 0.007], [0.33, 0.004], [0.66, 0.006], [0.66, 0.004], [1.0, 0.005]];
const sceneTvMovieMarks = [[0.33, 0.006], [0.66, 0.004], [1.0, 0.005]];

const MOTION_CURVES = [motionAction, motionAdventure, motionComedy, motionCrime, motionDocumentary, motionDrama, motionFamily, motionFantasy, motionHistory, motionHorror, motionMusic, motionMystery, motionSciFi, motionThriller, motionWar, motionBiography, motionShort, motionWestern, motionSport, motionAnimation, motionTvMovie];
const MOTION_MARKS = [motionActionMarks, motionAdventureMarks, motionComedyMarks, motionCrimeMarks, motionDocumentaryMarks, motionDramaMarks, motionFamilyMarks, motionFantasyMarks, motionHistoryMarks, motionHorrorMarks, motionMusicMarks, motionMysteryMarks, motionSciFiMarks, motionThrillerMarks, motionWarMarks, motionBiographyMarks, motionShortMarks, motionWesternMarks, motionSportMarks, motionAnimationMarks, motionTvMovieMarks];
const SCENE_CURVES = [sceneAction, sceneAdventure, sceneComedy, sceneCrime, sceneDocumentary, sceneDrama, sceneFamily, sceneFantasy, sceneHistory, sceneHorror, sceneMusic, sceneMystery, sceneSciFi, sceneThriller, sceneWar, sceneBiography, sceneShort, sceneWestern, sceneSport, sceneAnimation, sceneTvMovie];
const SCENE_MARKS = [sceneActionMarks, sceneAdventureMarks, sceneComedyMarks, sceneCrimeMarks, sceneDocumentaryMarks, sceneDramaMarks, sceneFamilyMarks, sceneFantasyMarks, sceneHistoryMarks, sceneHorrorMarks, sceneMusicMarks, sceneMysteryMarks, sceneSciFiMarks, sceneThrillerMarks, sceneWarMarks, sceneBiographyMarks, sceneShortMarks, sceneWesternMarks, sceneSportMarks, sceneAnimationMarks, sceneTvMovieMarks];

// ---- layout (pixels) ----
const FONT = '"DejaVu Sans", "Liberation Sans", sans-serif';
const PANELS = [
  { left: 51, top: 43, width: 857, height: 679.5, titleY: 30.5, legendBox: [267, 796, 425, 142], cols: [270, 421.7, 583.3], row0: 807 },
  { left: 983, top: 41, width: 857, height: 678, titleY: 28.5, legendBox: [1198, 793, 426, 141], cols: [1202.3, 1355, 1515], row0: 804 },
];
const ROW_STEP = 19.7;

// ---- marker shapes, unit coordinates (y down) ----
const rotate = (pts: number[][], deg: number) => {
  const a = (deg * Math.PI) / 180;
  return pts.map(([x, y]) => [x * Math.cos(a) - y * Math.sin(a), x * Math.sin(a) + y * Math.cos(a)]);
};
const TRI_UP = [[0, -1], [1, 1], [-1, 1]];
const PLUS = [[-0.36, -1], [0.36, -1], [0.36, -0.36], [1, -0.36], [1, 0.36], [0.36, 0.36], [0.36, 1], [-0.36, 1], [-0.36, 0.36], [-1, 0.36], [-1, -0.36], [-0.36, -0.36]];
const STAR = Array.from({ length: 10 }, (_, k) => {
  const a = ((-90 + 36 * k) * Math.PI) / 180;
  const r = k % 2 === 0 ? 1 : 0.42;
  return [r * Math.cos(a), r * Math.sin(a)];
});
const SHAPES: Record<string, { pts: number[][]; half: number }> = {
  '^': { pts: TRI_UP, half: 4.6 },
  v: { pts: rotate(TRI_UP, 180), half: 4.6 },
  '<': { pts: rotate(TRI_UP, -90), half: 4.6 },
  '>': { pts: rotate(TRI_UP, 90), half: 4.6 },
  s: { pts: [[-1, -1], [1, -1], [1, 1], [-1, 1]], half: 3.9 },
  '*': { pts: STAR, half: 6 },
  d: { pts: [[0, -1], [0.6, 0], [0, 1], [-0.6, 0]], half: 5.2 },
  P: { pts: PLUS, half: 4.7 },
  X: { pts: rotate(PLUS, 45), half: 5.2 },
};

function scatterSymbol(m: string): any {
  if (m === 'o') return { symbol: 'circle', symbolSize: 9 };
  if (m === '2') return { symbol: 'rect', symbolSize: [1.6, 7], symbolOffset: [0, -3.5] };
  if (m === '3') return { symbol: 'rect', symbolSize: [1.6, 7], symbolOffset: [0, 3.5] };
  const { pts, half } = SHAPES[m];
  const xs = pts.map((p) => p[0]);
  const ys = pts.map((p) => p[1]);
  const d = 'path://' + pts.map((p, i) => (i ? 'L' : 'M') + (p[0] * 10).toFixed(2) + ',' + (p[1] * 10).toFixed(2)).join(' ') + ' Z';
  return {
    symbol: d,
    symbolSize: [(Math.max(...xs) - Math.min(...xs)) * half, (Math.max(...ys) - Math.min(...ys)) * half],
  };
}

function legendMarker(m: string, cx: number, cy: number, color: string): any[] {
  if (!m) return [];
  if (m === 'o') return [{ type: 'circle', shape: { cx, cy, r: 4.5 }, style: { fill: color } }];
  if (m === '2') return [{ type: 'rect', shape: { x: cx - 0.8, y: cy - 7, width: 1.6, height: 7 }, style: { fill: color } }];
  if (m === '3') return [{ type: 'rect', shape: { x: cx - 0.8, y: cy, width: 1.6, height: 7 }, style: { fill: color } }];
  const { pts, half } = SHAPES[m];
  return [{ type: 'polygon', shape: { points: pts.map(([x, y]) => [cx + x * half, cy + y * half]) }, style: { fill: color } }];
}

const App = () => {
  const chartRef = useRef<HTMLDivElement>(null);

  useEffect(() => {
    if (!chartRef.current) return;
    const chart = echarts.init(chartRef.current, undefined, { renderer: 'svg' });

    const panelsData = [
      { curves: MOTION_CURVES, marks: MOTION_MARKS },
      { curves: SCENE_CURVES, marks: SCENE_MARKS },
    ];

    const series: any[] = [];
    panelsData.forEach((pd, k) => {
      GENRES.forEach((name, i) => {
        series.push({
          type: 'line',
          name,
          xAxisIndex: k,
          yAxisIndex: k,
          data: pd.curves[i],
          showSymbol: false,
          symbol: 'none',
          lineStyle: { color: COLORS[i], width: 1.8 },
          itemStyle: { color: COLORS[i] },
          silent: true,
        });
        if (MARKERS[i] && pd.marks[i].length) {
          series.push({
            type: 'scatter',
            name: name + ' markers',
            xAxisIndex: k,
            yAxisIndex: k,
            data: pd.marks[i],
            ...scatterSymbol(MARKERS[i]),
            itemStyle: { color: COLORS[i], opacity: 1 },
            silent: true,
          });
        }
      });
    });

    const graphics: any[] = [];
    PANELS.forEach((p, k) => {
      graphics.push({
        type: 'text',
        x: p.left + p.width / 2,
        y: p.titleY,
        style: { text: TITLES[k], fill: '#000', font: `15.5px ${FONT}`, align: 'center', verticalAlign: 'middle', textAlign: 'center', textVerticalAlign: 'middle' },
      });
      const [bx, by, bw, bh] = p.legendBox;
      graphics.push({
        type: 'rect',
        shape: { x: bx, y: by, width: bw, height: bh, r: 3 },
        style: { fill: '#ffffff', stroke: '#d4d4d4', lineWidth: 1 },
      });
      GENRES.forEach((name, i) => {
        const col = Math.floor(i / 7);
        const row = i % 7;
        const x = p.cols[col];
        const y = p.row0 + row * ROW_STEP;
        graphics.push({
          type: 'line',
          shape: { x1: x, y1: y, x2: x + 28, y2: y },
          style: { stroke: COLORS[i], lineWidth: 1.8 },
        });
        graphics.push(...legendMarker(MARKERS[i], x + 14, y, COLORS[i]));
        graphics.push({
          type: 'text',
          x: x + 38,
          y,
          style: { text: name, fill: '#000', font: `12.5px ${FONT}`, align: 'left', verticalAlign: 'middle', textAlign: 'left', textVerticalAlign: 'middle' },
        });
      });
    });

    const axisText = { color: '#000', fontSize: 12, fontFamily: FONT };

    chart.setOption({
      animation: false,
      backgroundColor: '#ffffff',
      grid: PANELS.map((p) => ({
        left: p.left,
        top: p.top,
        width: p.width,
        height: p.height,
        show: true,
        borderColor: '#000',
        borderWidth: 1,
        backgroundColor: 'transparent',
      })),
      xAxis: PANELS.map((_, k) => ({
        type: 'value',
        gridIndex: k,
        min: 0,
        max: 1,
        interval: 0.2,
        name: 'Recall',
        nameLocation: 'middle',
        nameGap: 29,
        nameTextStyle: { color: '#000', fontSize: 12.5, fontFamily: FONT },
        axisLine: { show: true, lineStyle: { color: '#000', width: 1 } },
        axisTick: { show: true, length: 5, lineStyle: { color: '#000' }, customValues: X_TICKS },
        axisLabel: { ...axisText, margin: 7, customValues: X_TICKS, formatter: (v: number) => v.toFixed(1) },
        splitLine: { show: false },
      })),
      yAxis: PANELS.map((_, k) => ({
        type: 'value',
        gridIndex: k,
        min: 0,
        max: 1.05,
        interval: 0.2,
        name: 'Precision',
        nameLocation: 'middle',
        nameGap: 34,
        nameTextStyle: { color: '#000', fontSize: 12.5, fontFamily: FONT },
        axisLine: { show: true, lineStyle: { color: '#000', width: 1 } },
        axisTick: { show: true, length: 5, lineStyle: { color: '#000' }, customValues: Y_TICKS },
        axisLabel: { ...axisText, margin: 7, customValues: Y_TICKS, formatter: (v: number) => v.toFixed(1) },
        splitLine: { show: false },
      })),
      series,
      graphic: { elements: graphics },
    });

    const handleResize = () => chart.resize();
    window.addEventListener('resize', handleResize);
    return () => {
      window.removeEventListener('resize', handleResize);
      chart.dispose();
    };
  }, []);

  return (
    <div
      ref={chartRef}
      style={{ position: 'fixed', left: 0, top: 0, width: 1871, height: 982, background: '#fff' }}
    />
  );
};

export default App;
